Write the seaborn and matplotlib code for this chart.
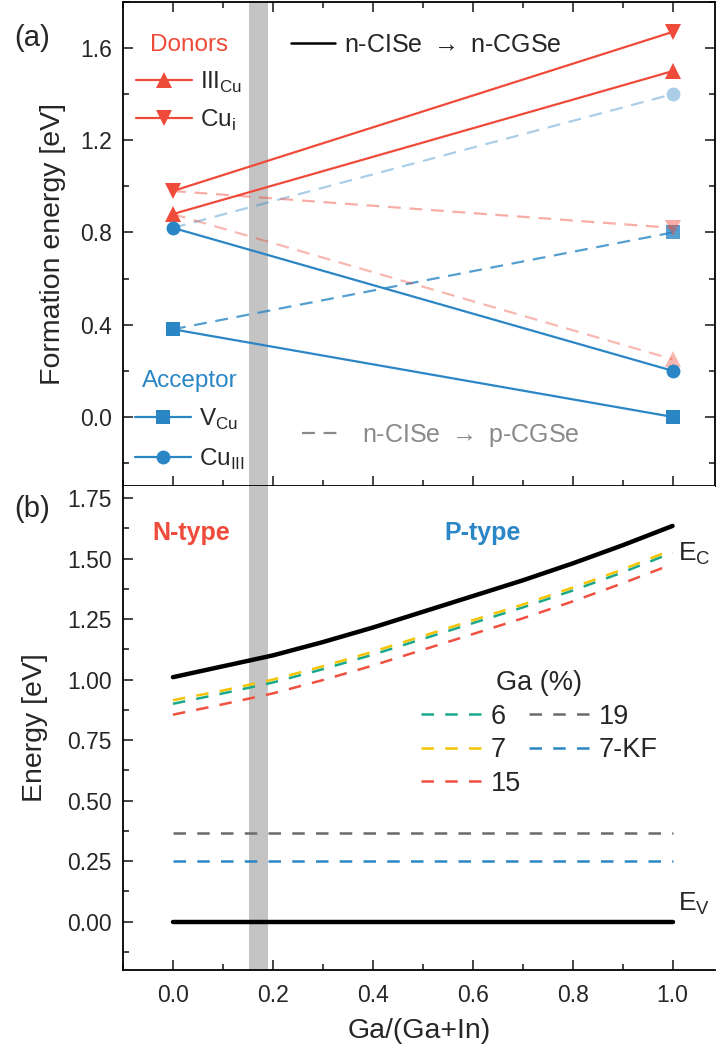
import numpy as np
import pandas as pd
import matplotlib
matplotlib.use("Agg")
import matplotlib.pyplot as plt
from matplotlib.lines import Line2D
from matplotlib.ticker import MultipleLocator, FormatStrFormatter
import seaborn as sns

# ---------------- data ----------------
# panel (a): formation energies at Ga/(Ga+In) = 0 and 1
x_ends = [0.0, 1.0]
iii_cu_n = [0.88, 1.50]
cu_i_n = [0.98, 1.67]
v_cu_n = [0.38, 0.00]
cu_iii_n = [0.82, 0.20]
iii_cu_p = [0.88, 0.25]
cu_i_p = [0.98, 0.82]
v_cu_p = [0.38, 0.80]
cu_iii_p = [0.82, 1.40]

# panel (b): band edges and Fermi levels
ga_x = [0.0, 0.1, 0.2, 0.3, 0.4, 0.5, 0.6, 0.7, 0.8, 0.9, 1.0]
ec = [1.01, 1.055, 1.10, 1.155, 1.215, 1.28, 1.345, 1.41, 1.48, 1.555, 1.635]
ga6 = [0.90, 0.943, 0.988, 1.043, 1.103, 1.168, 1.233, 1.298, 1.368, 1.443, 1.525]
ga7 = [0.915, 0.955, 1.00, 1.055, 1.115, 1.18, 1.245, 1.31, 1.38, 1.455, 1.537]
ga15 = [0.855, 0.898, 0.943, 0.998, 1.058, 1.123, 1.188, 1.253, 1.323, 1.398, 1.477]
ga19 = [0.365, 0.365]
ga7kf = [0.25, 0.25]
ev = [0.0, 0.0]
ga_labels = ["6", "7", "15", "19", "7-KF"]

band = (0.152, 0.19)

# ---------------- style ----------------
sns.set_theme(style="ticks")
plt.rcParams["font.family"] = ["Liberation Sans", "DejaVu Sans"]
plt.rcParams["mathtext.fontset"] = "custom"
plt.rcParams["mathtext.rm"] = "Liberation Sans"
plt.rcParams["axes.linewidth"] = 1.3
plt.rcParams["axes.edgecolor"] = "black"

RED = "#ef4b3a"
BLUE = "#2b86c5"
GREEN = "#1aa88a"
YELLOW = "#f5c400"
RED15 = "#f0503f"
GRAY19 = "#6a6a6a"

TFS = 16.5   # tick labels
LFS = 20.5   # axis labels
GFS = 17.5   # legend text panel (a)

W, H = 716, 1051
fig = plt.figure(figsize=(W / 100, H / 100), dpi=100)
L = 123 / W
R = 715 / W
ax1 = fig.add_axes([L, 1 - 486 / H, R - L, (486 - 2) / H])
ax2 = fig.add_axes([L, 1 - 970 / H, R - L, (970 - 486) / H])

def fig_xy(px, py):
    return (px / W, 1 - py / H)

def line(ax, x, y, color, **kw):
    df = pd.DataFrame({"x": x, "y": y})
    sns.lineplot(data=df, x="x", y="y", ax=ax, color=color, sort=False,
                 estimator=None, legend=False, **kw)

# ---------------- panel (a) ----------------
ax = ax1
ax.axvspan(*band, color="#c4c4c4", lw=0, zorder=0)

dash_a = (0, (5.8, 3.9))

# dashed p-CGSe lines (lighter), marker only at x=1
line(ax, x_ends, cu_iii_p, BLUE, linestyle=dash_a, lw=1.6, alpha=0.4,
     marker="o", markersize=10, markevery=[1], markeredgewidth=0, zorder=2)
line(ax, x_ends, v_cu_p, BLUE, linestyle=dash_a, lw=1.6, alpha=0.8,
     marker="s", markersize=9.5, markevery=[1], markeredgewidth=0, zorder=2)
line(ax, x_ends, cu_i_p, RED, linestyle=dash_a, lw=1.6, alpha=0.45,
     marker="v", markersize=11, markevery=[1], markeredgewidth=0, zorder=3)
line(ax, x_ends, iii_cu_p, RED, linestyle=dash_a, lw=1.6, alpha=0.4,
     marker="^", markersize=11, markevery=[1], markeredgewidth=0, zorder=3)

# solid n-CGSe lines
line(ax, x_ends, iii_cu_n, RED, lw=1.6, marker="^", markersize=11,
     markeredgewidth=0, zorder=4)
line(ax, x_ends, cu_i_n, RED, lw=1.6, marker="v", markersize=11,
     markeredgewidth=0, zorder=4)
line(ax, x_ends, v_cu_n, BLUE, lw=1.6, marker="s", markersize=9.5,
     markeredgewidth=0, zorder=4)
line(ax, x_ends, cu_iii_n, BLUE, lw=1.6, marker="o", markersize=10,
     markeredgewidth=0, zorder=4)

ax.set_xlim(-0.1, 1.085)
ax.set_ylim(-0.3, 1.8)
ax.yaxis.set_major_locator(MultipleLocator(0.4))
ax.yaxis.set_minor_locator(MultipleLocator(0.2))
ax.yaxis.set_major_formatter(FormatStrFormatter("%.1f"))
ax.xaxis.set_major_locator(MultipleLocator(0.2))
ax.xaxis.set_minor_locator(MultipleLocator(0.1))
ax.tick_params(which="both", direction="in", top=True, right=True,
               labelbottom=False, labelsize=TFS, width=1.2)
ax.tick_params(axis="y", which="major", pad=8)
ax.tick_params(which="major", length=7)
ax.tick_params(which="minor", length=4)
ax.set_xlabel("")
ax.set_ylabel("Formation energy [eV]", fontsize=LFS, labelpad=10)
for s in ax.spines.values():
    s.set_visible(True)

# legends panel (a)
h_iii = Line2D([], [], color=RED, lw=1.6, marker="^", markersize=11, markeredgewidth=0)
h_cui = Line2D([], [], color=RED, lw=1.6, marker="v", markersize=11, markeredgewidth=0)
leg_d = ax.legend([h_iii, h_cui], ["III$_{\\mathregular{Cu}}$", "Cu$_{\\mathregular{i}}$"],
                  title="Donors", frameon=False, fontsize=GFS, title_fontsize=GFS,
                  loc="upper left", bbox_to_anchor=fig_xy(136, 34),
                  bbox_transform=fig.transFigure, borderpad=0, borderaxespad=0,
                  handlelength=2.3, handletextpad=0.35, labelspacing=0.55)
leg_d.get_title().set_color(RED)
ax.add_artist(leg_d)

h_v = Line2D([], [], color=BLUE, lw=1.6, marker="s", markersize=9.5, markeredgewidth=0)
h_c = Line2D([], [], color=BLUE, lw=1.6, marker="o", markersize=10, markeredgewidth=0)
leg_a = ax.legend([h_v, h_c], ["V$_{\\mathregular{Cu}}$", "Cu$_{\\mathregular{III}}$"],
                  title="Acceptor", frameon=False, fontsize=GFS, title_fontsize=GFS,
                  loc="upper left", bbox_to_anchor=fig_xy(135, 370),
                  bbox_transform=fig.transFigure, borderpad=0, borderaxespad=0,
                  handlelength=2.3, handletextpad=0.35, labelspacing=0.6)
leg_a.get_title().set_color(BLUE)
ax.add_artist(leg_a)

h_n = Line2D([], [], color="black", lw=1.8)
leg_n = ax.legend([h_n], ["n-CISe $\\rightarrow$ n-CGSe"], frameon=False, fontsize=18,
                  loc="upper left", bbox_to_anchor=fig_xy(291, 33),
                  bbox_transform=fig.transFigure, borderpad=0, borderaxespad=0,
                  handlelength=1.75, handletextpad=0.35)
ax.add_artist(leg_n)

h_p = Line2D([], [], color="#8a8a8a", lw=1.6, linestyle=(0, (5.8, 3.9)))
leg_p = ax.legend([h_p], ["n-CISe $\\rightarrow$ p-CGSe"], frameon=False, fontsize=18,
                  loc="upper left", bbox_to_anchor=fig_xy(302, 422),
                  bbox_transform=fig.transFigure, borderpad=0, borderaxespad=0,
                  handlelength=1.5, handletextpad=0.9, labelcolor="#8a8a8a")

fig.text(14 / W, 1 - 38 / H, "(a)", fontsize=21, va="center", ha="left")

# ---------------- panel (b) ----------------
ax = ax2
ax.axvspan(*band, color="#c4c4c4", lw=0, zorder=0)
dash_b = (0, (5.0, 4.5))

line(ax, ga_x, ec, "black", lw=3.2, solid_capstyle="round", zorder=4)
line(ax, x_ends, ev, "black", lw=3.2, solid_capstyle="round", zorder=4)
line(ax, ga_x, ga6, GREEN, lw=1.8, linestyle=dash_b, zorder=3)
line(ax, ga_x, ga7, YELLOW, lw=1.8, linestyle=dash_b, zorder=3)
line(ax, ga_x, ga15, RED15, lw=1.8, linestyle=dash_b, zorder=3)
line(ax, x_ends, ga19, GRAY19, lw=1.8, linestyle=dash_b, zorder=3)
line(ax, x_ends, ga7kf, BLUE, lw=1.8, linestyle=dash_b, zorder=3)

ax.set_xlim(-0.1, 1.085)
ax.set_ylim(-0.2, 1.8)
ax.yaxis.set_major_locator(MultipleLocator(0.25))
ax.yaxis.set_minor_locator(MultipleLocator(0.125))
ax.yaxis.set_major_formatter(FormatStrFormatter("%.2f"))
ax.xaxis.set_major_locator(MultipleLocator(0.2))
ax.xaxis.set_minor_locator(MultipleLocator(0.1))
ax.xaxis.set_major_formatter(FormatStrFormatter("%.1f"))
ax.tick_params(which="both", direction="in", top=False, right=False,
               labelsize=TFS, width=1.2)
ax.tick_params(axis="y", which="major", pad=8)
ax.tick_params(axis="x", which="major", pad=10)
ax.tick_params(which="major", length=7)
ax.tick_params(which="minor", length=4)
ax.spines["top"].set_visible(False)
ax.spines["right"].set_visible(False)
ax.set_xlabel("Ga/(Ga+In)", fontsize=LFS, labelpad=8)
ax.set_ylabel("Energy [eV]", fontsize=LFS, labelpad=14)

ax.text(0.036, 1.607, "N-type", color=RED, fontsize=18, fontweight="bold",
        ha="center", va="center")
ax.text(0.62, 1.607, "P-type", color=BLUE, fontsize=18, fontweight="bold",
        ha="center", va="center")
ax.text(1.01, 1.52, "E$_{\\mathregular{C}}$", fontsize=19, ha="left", va="center")
ax.text(1.01, 0.075, "E$_{\\mathregular{V}}$", fontsize=19, ha="left", va="center")

ga_colors = [GREEN, YELLOW, RED15, GRAY19, BLUE]
handles = [Line2D([], [], color=c, lw=1.8, linestyle=dash_b) for c in ga_colors]
leg_g = ax.legend(handles, ga_labels, title="Ga (%)", ncol=2, frameon=False,
                  fontsize=19.5, title_fontsize=19.5, loc="upper left",
                  bbox_to_anchor=fig_xy(421, 670), bbox_transform=fig.transFigure,
                  borderpad=0, borderaxespad=0, handlelength=2.2,
                  handletextpad=0.37, columnspacing=0.3, labelspacing=0.28)

fig.text(14 / W, 1 - 509 / H, "(b)", fontsize=21, va="center", ha="left")

fig.savefig("out.png", dpi=100)
